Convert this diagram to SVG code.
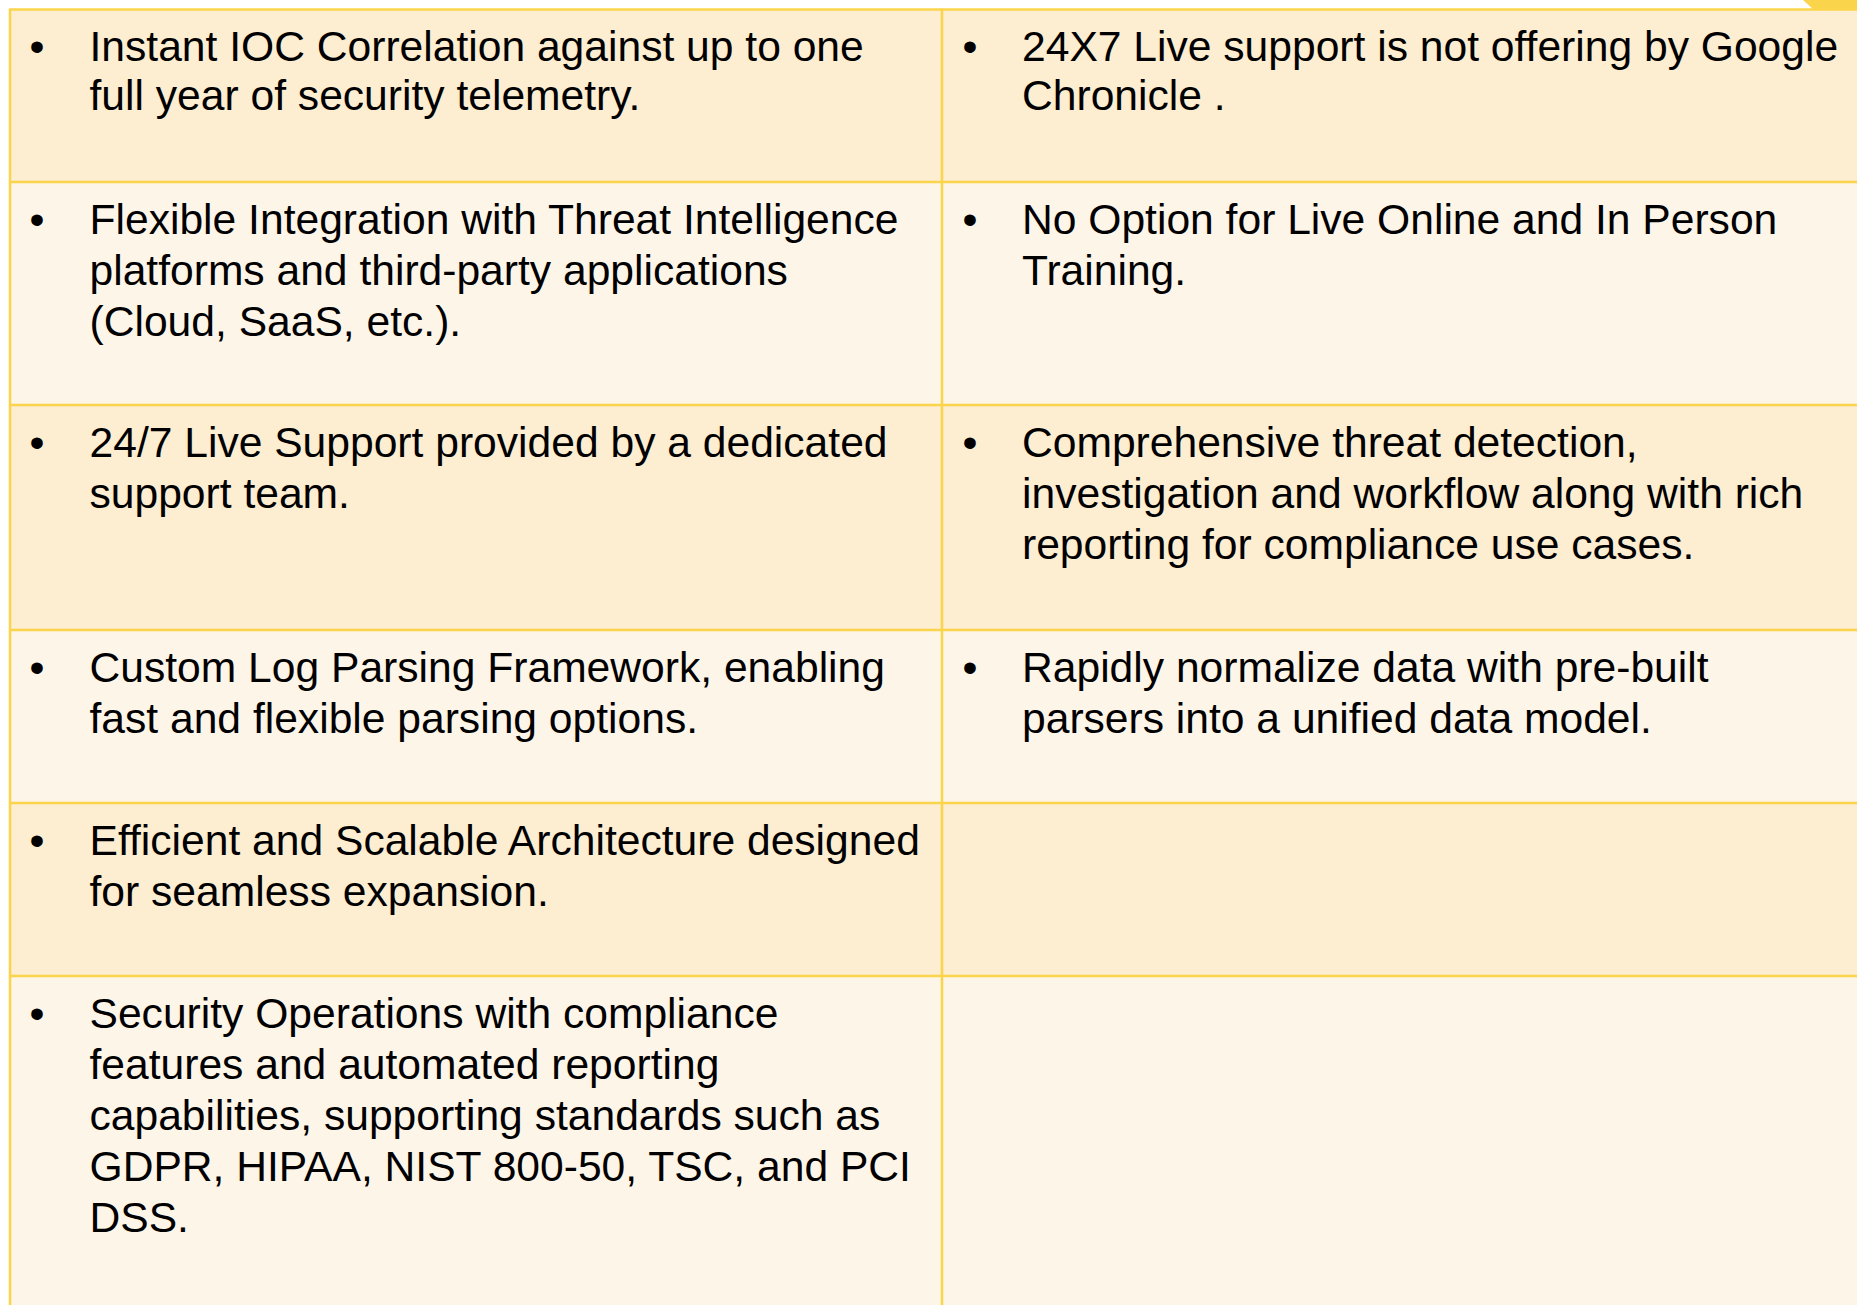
<svg xmlns="http://www.w3.org/2000/svg" width="1857" height="1305" viewBox="0 0 1857 1305">
  <style>
    .dark { fill: #FDEDD1; }
    .light { fill: #FEF5E9; }
    .rule { stroke: #FAD44A; stroke-width: 2.5; fill: none; }
    .t { font-family: "Liberation Sans", Arial, sans-serif; font-size: 42.6px; fill: #000; }
  </style>
  <rect x="0" y="0" width="1857" height="1305" fill="#FFFFFF"/>
  <!-- corner tab of the accent shape behind the table -->
  <polygon points="1803,0 1857,0 1857,10 1814,10" fill="#FAD44A"/>

  <!-- row backgrounds -->
  <g id="row-fills">
    <rect class="dark" x="10" y="10" width="1847" height="172"/>
    <rect class="light" x="10" y="182" width="1847" height="223"/>
    <rect class="dark" x="10" y="405" width="1847" height="225"/>
    <rect class="light" x="10" y="630" width="1847" height="173"/>
    <rect class="dark" x="10" y="803" width="1847" height="173"/>
    <rect class="light" x="10" y="976" width="1847" height="329"/>
  </g>

  <!-- grid lines -->
  <g id="grid">
    <line class="rule" x1="10" y1="9.5" x2="1857" y2="9.5"/>
    <line class="rule" x1="10" y1="182" x2="1857" y2="182"/>
    <line class="rule" x1="10" y1="405" x2="1857" y2="405"/>
    <line class="rule" x1="10" y1="630" x2="1857" y2="630"/>
    <line class="rule" x1="10" y1="803" x2="1857" y2="803"/>
    <line class="rule" x1="10" y1="976" x2="1857" y2="976"/>
    <line class="rule" x1="10" y1="8.5" x2="10" y2="1305"/>
    <line class="rule" x1="942" y1="8.5" x2="942" y2="1305"/>
  </g>

  <!-- left column cells -->
  <g id="cell-l1">
    <text class="t" x="29.5" y="61">•</text>
    <text class="t" x="89.5" y="61">Instant IOC Correlation against up to one</text>
    <text class="t" x="89.5" y="110">full year of security telemetry.</text>
  </g>
  <g id="cell-l2">
    <text class="t" x="29.5" y="234">•</text>
    <text class="t" x="89.5" y="234">Flexible Integration with Threat Intelligence</text>
    <text class="t" x="89.5" y="285">platforms and third-party applications</text>
    <text class="t" x="89.5" y="336">(Cloud, SaaS, etc.).</text>
  </g>
  <g id="cell-l3">
    <text class="t" x="29.5" y="457">•</text>
    <text class="t" x="89.5" y="457">24/7 Live Support provided by a dedicated</text>
    <text class="t" x="89.5" y="508">support team.</text>
  </g>
  <g id="cell-l4">
    <text class="t" x="29.5" y="682">•</text>
    <text class="t" x="89.5" y="682">Custom Log Parsing Framework, enabling</text>
    <text class="t" x="89.5" y="733">fast and flexible parsing options.</text>
  </g>
  <g id="cell-l5">
    <text class="t" x="29.5" y="855">•</text>
    <text class="t" x="89.5" y="855">Efficient and Scalable Architecture designed</text>
    <text class="t" x="89.5" y="906">for seamless expansion.</text>
  </g>
  <g id="cell-l6">
    <text class="t" x="29.5" y="1028">•</text>
    <text class="t" x="89.5" y="1028">Security Operations with compliance</text>
    <text class="t" x="89.5" y="1079">features and automated reporting</text>
    <text class="t" x="89.5" y="1130">capabilities, supporting standards such as</text>
    <text class="t" x="89.5" y="1181">GDPR, HIPAA, NIST 800-50, TSC, and PCI</text>
    <text class="t" x="89.5" y="1232">DSS.</text>
  </g>

  <!-- right column cells -->
  <g id="cell-r1">
    <text class="t" x="962.5" y="61">•</text>
    <text class="t" x="1022" y="61">24X7 Live support is not offering by Google</text>
    <text class="t" x="1022" y="110">Chronicle .</text>
  </g>
  <g id="cell-r2">
    <text class="t" x="962.5" y="234">•</text>
    <text class="t" x="1022" y="234">No Option for Live Online and In Person</text>
    <text class="t" x="1022" y="285">Training.</text>
  </g>
  <g id="cell-r3">
    <text class="t" x="962.5" y="457">•</text>
    <text class="t" x="1022" y="457">Comprehensive threat detection,</text>
    <text class="t" x="1022" y="508">investigation and workflow along with rich</text>
    <text class="t" x="1022" y="559">reporting for compliance use cases.</text>
  </g>
  <g id="cell-r4">
    <text class="t" x="962.5" y="682">•</text>
    <text class="t" x="1022" y="682">Rapidly normalize data with pre-built</text>
    <text class="t" x="1022" y="733">parsers into a unified data model.</text>
  </g>
</svg>
